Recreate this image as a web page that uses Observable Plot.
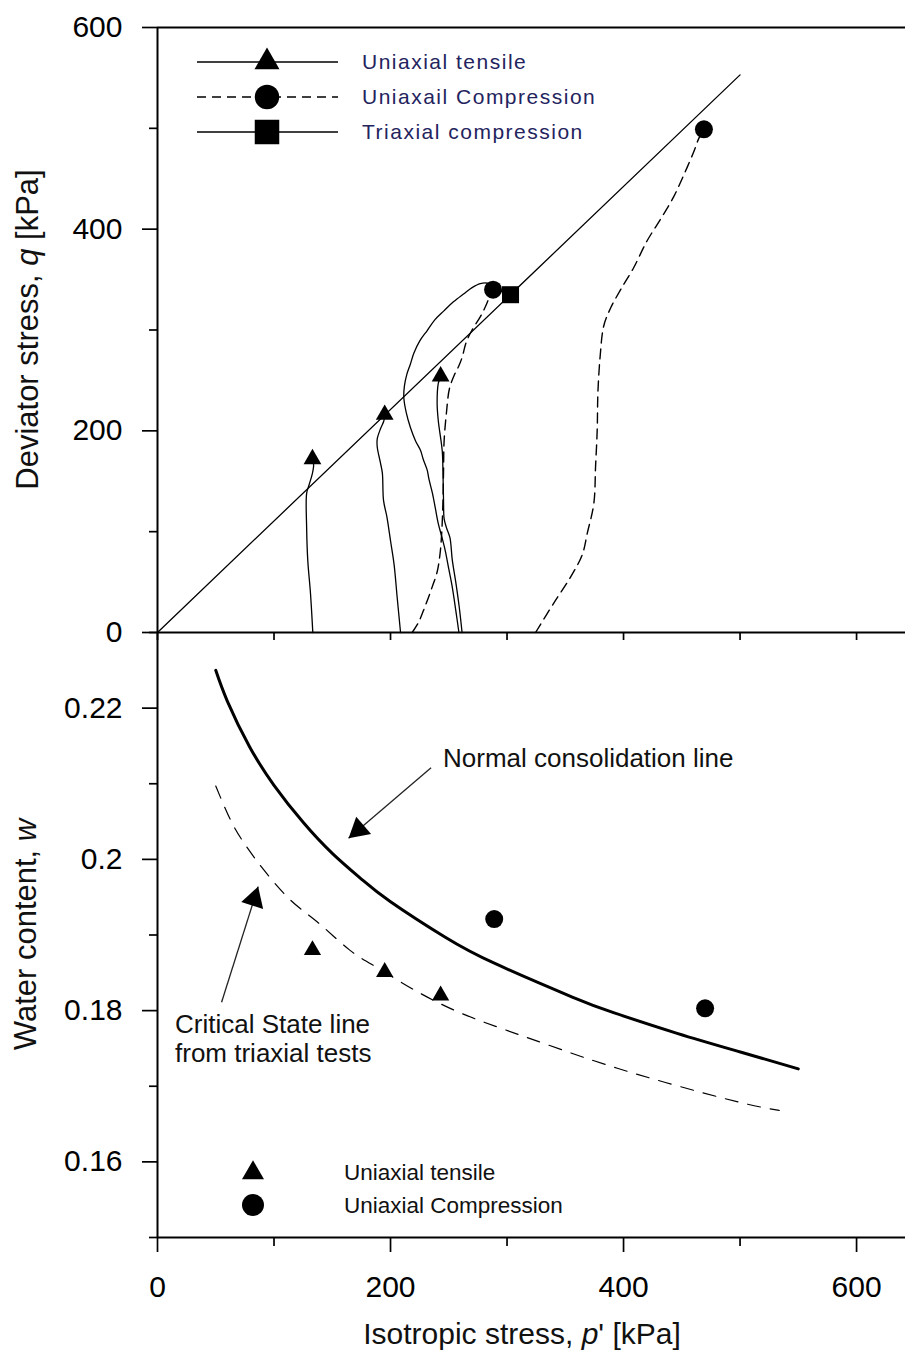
<!DOCTYPE html>
<html>
<head>
<meta charset="utf-8">
<script src="https://cdn.jsdelivr.net/npm/d3@7"></script>
<script src="https://cdn.jsdelivr.net/npm/@observablehq/plot@0.6"></script>
<style>
  body { margin: 0; background: #fff; }
  #wrap { position: relative; width: 905px; height: 1358px; overflow: hidden; background: #fff; }
  #wrap svg { position: absolute; left: 0; top: 0; }
</style>
</head>
<body>
<div id="wrap"></div>
<script>
// ---------- tick values ----------
const pTicksMajor = [0, 200, 400, 600];
const pTicksMinor = [100, 300, 500];
const qTicksMajor = [0, 200, 400, 600];
const qTicksMinor = [100, 300, 500];
const wTicksMajor = [0.16, 0.18, 0.2, 0.22];
const wTicksMinor = [0.15, 0.17, 0.19, 0.21, 0.23];

// ---------- upper panel: stress paths [p', q] ----------
const criticalStateLineQ = [[0, 0], [500, 553]];
const tensilePath1 = [[133.3, 0], [131.3, 39], [129, 71], [128, 104], [128, 138], [130, 146], [132.8, 157], [134, 166], [133, 172]];
const tensilePath2 = [[208.6, 0], [205.7, 35], [203, 68], [200, 91], [197, 114], [194, 131], [193, 158], [191.4, 168], [188.6, 184], [188.6, 192], [191.4, 202], [194.3, 210], [195, 216]];
const tensilePath3 = [[261.4, 0], [259, 25], [256, 50], [253, 72], [251, 94], [248, 104], [246, 113], [245.5, 130], [245, 160], [244.4, 180], [241, 210], [240, 227], [241, 247], [243, 254]];
const compressionPath1 = [[218.6, 0], [224, 10], [228, 21], [232, 33], [236, 46], [240, 60], [242.5, 78], [244, 100], [245, 130], [245.5, 160], [246, 190], [248, 218], [250.6, 242], [255, 256], [258.5, 264], [261.5, 273], [265, 288], [270, 300], [277, 313], [281, 322], [284, 330], [288, 340]];
const compressionPath2 = [[324.5, 0], [340, 29], [354.5, 55], [364.5, 77], [369, 99], [374.5, 128], [376, 165], [377.4, 201], [378, 238], [380, 275], [383, 304], [389, 322], [397.5, 340], [408.8, 362], [420, 388], [431.8, 410], [443, 432], [451.8, 454], [460, 476], [464.6, 490], [469, 499]];
const triaxialPath = [[258.7, 0], [256, 22], [253, 45], [250, 63], [247, 81], [244, 95], [241, 108], [238.5, 123], [236, 138], [233, 152], [231.5, 161], [228, 172], [225.8, 180.5], [221.5, 190], [217, 203.6], [213.5, 218], [211.4, 233], [212, 245], [214, 256], [217, 266], [220, 277], [225, 289], [231.5, 299.5], [238, 310], [245.8, 319], [254, 328], [263, 336], [270, 342], [277, 346], [283, 346.5], [289, 342], [296, 338], [303, 335]];
const tensileFailureQ = [[133, 172], [195, 216], [243, 254]];
const compressionFailureQ = [[288, 340], [469, 499]];
const triaxialFailureQ = [[303, 335]];

// ---------- lower panel: water content [p', w] ----------
const normalConsolidationLine = [[50, 0.2250], [60, 0.2209], [79, 0.2149], [100, 0.2098], [125, 0.2049], [150, 0.2008], [175, 0.1974], [200, 0.1944], [247, 0.1897], [290, 0.1862], [356, 0.1818], [392, 0.1797], [446, 0.1770], [501, 0.1745], [550, 0.1723]];
const criticalStateLineW = [[50, 0.2097], [62.7, 0.2052], [75, 0.2020], [91.8, 0.1985], [115, 0.1945], [138.9, 0.1915], [165, 0.1880], [189.5, 0.1856], [218.5, 0.1829], [260, 0.1797], [312.5, 0.1767], [374, 0.1734], [436, 0.1705], [499, 0.1679], [533.6, 0.1668]];
const tensileWater = [[133, 0.188], [195, 0.1851], [243, 0.182]];
const compressionWater = [[289, 0.1921], [470, 0.1803]];

// annotation arrows [tail, tip] in [p', w]
const nclArrow = [[234.8, 0.2121], [164, 0.2028]];
const cslArrow = [[55, 0.1811], [86.4, 0.1964]];

// ---------- texts ----------
const upperLegendLabels = ["Uniaxial tensile", "Uniaxail Compression", "Triaxial compression"];
const lowerLegendLabels = ["Uniaxial tensile", "Uniaxial Compression"];
const nclLabel = "Normal consolidation line";
const cslLabelLines = ["Critical State line", "from triaxial tests"];

// ---------- layout ----------
const FONT = "'Liberation Sans', Arial, Helvetica, sans-serif";
const W = 905, H = 1358, ML = 157;
const P_MAX = 642;
const Y_TOP = 27, Y_MID = 632, Y_BOT = 1237;
const KX = (W - ML) / P_MAX;
const KW = (Y_BOT - Y_MID) / 0.08;

const X = d => d[0], Y = d => d[1];
const wrap = document.getElementById("wrap");
const baseStyle = {background: "transparent", overflow: "visible", fontFamily: FONT, color: "#000"};

const solid = (data) => Plot.line(data, {x: X, y: Y, stroke: "#000", strokeWidth: 1.3, curve: "catmull-rom"});
const dashed = (data) => Plot.line(data, {x: X, y: Y, stroke: "#000", strokeWidth: 1.4, strokeDasharray: "10,6", curve: "catmull-rom"});

const upper = Plot.plot({
  width: W, height: H,
  marginLeft: ML, marginRight: 0, marginTop: Y_TOP, marginBottom: H - Y_MID,
  style: baseStyle,
  x: {domain: [0, P_MAX]},
  y: {domain: [0, 600]},
  marks: [
    Plot.line(criticalStateLineQ, {x: X, y: Y, stroke: "#000", strokeWidth: 1.3}),
    solid(tensilePath1), solid(tensilePath2), solid(tensilePath3), solid(triaxialPath),
    dashed(compressionPath1), dashed(compressionPath2),
    Plot.dot(tensileFailureQ, {x: X, y: Y, symbol: "triangle", r: 6.6, fill: "#000", stroke: "none"}),
    Plot.dot(compressionFailureQ, {x: X, y: Y, symbol: "circle", r: 9, fill: "#000", stroke: "none"}),
    Plot.dot(triaxialFailureQ, {x: X, y: Y, symbol: "square", r: 9.6, fill: "#000", stroke: "none"}),
    Plot.ruleX([0], {stroke: "#000", strokeWidth: 2}),
    Plot.ruleY([600], {stroke: "#000", strokeWidth: 2}),
    Plot.ruleY([0], {stroke: "#000", strokeWidth: 2}),
    Plot.axisY({ticks: qTicksMajor, tickSize: 15, tickPadding: 20, fontSize: 30, label: null, strokeWidth: 1.7}),
    Plot.axisY({ticks: qTicksMinor, tickSize: 8, tickFormat: () => "", label: null, strokeWidth: 1.7}),
    Plot.axisX({ticks: [...pTicksMajor, ...pTicksMinor], tickSize: 8, tickFormat: () => "", label: null, strokeWidth: 1.7})
  ]
});

function arrowMarks(a, r) {
  const [t, h] = a;
  const dxp = (h[0] - t[0]) * KX, dyp = -(h[1] - t[1]) * KW;
  const len = Math.hypot(dxp, dyp), ux = dxp / len, uy = dyp / len;
  const ang = Math.atan2(ux, -uy) * 180 / Math.PI;
  const off = 1.555 * r;
  return [
    Plot.link([a], {x1: d => d[0][0], y1: d => d[0][1], x2: d => d[1][0], y2: d => d[1][1], stroke: "#222", strokeWidth: 1.3}),
    Plot.dot([h], {x: X, y: Y, symbol: "triangle", r, fill: "#000", stroke: "none", rotate: ang, dx: -ux * off, dy: -uy * off})
  ];
}

const lower = Plot.plot({
  width: W, height: H,
  marginLeft: ML, marginRight: 0, marginTop: Y_MID, marginBottom: H - Y_BOT,
  style: baseStyle,
  x: {domain: [0, P_MAX]},
  y: {domain: [0.15, 0.23]},
  marks: [
    Plot.line(normalConsolidationLine, {x: X, y: Y, stroke: "#000", strokeWidth: 3, curve: "natural"}),
    Plot.line(criticalStateLineW, {x: X, y: Y, stroke: "#000", strokeWidth: 1.2, strokeDasharray: "13,10", curve: "natural"}),
    Plot.dot(tensileWater, {x: X, y: Y, symbol: "triangle", r: 6.4, fill: "#000", stroke: "none"}),
    Plot.dot(compressionWater, {x: X, y: Y, symbol: "circle", r: 9, fill: "#000", stroke: "none"}),
    ...arrowMarks(nclArrow, 8.5),
    ...arrowMarks(cslArrow, 8.5),
    Plot.ruleX([0], {stroke: "#000", strokeWidth: 2}),
    Plot.ruleY([0.15], {stroke: "#000", strokeWidth: 2}),
    Plot.axisY({ticks: wTicksMajor, tickSize: 15, tickPadding: 20, fontSize: 30, label: null, strokeWidth: 1.7, tickFormat: d => String(d)}),
    Plot.axisY({ticks: wTicksMinor, tickSize: 8, tickFormat: () => "", label: null, strokeWidth: 1.7}),
    Plot.axisX({ticks: pTicksMajor, tickSize: 15, tickPadding: 23, fontSize: 30, label: null, strokeWidth: 1.7}),
    Plot.axisX({ticks: pTicksMinor, tickSize: 9, tickFormat: () => "", label: null, strokeWidth: 1.7})
  ]
});

wrap.appendChild(upper);
wrap.appendChild(lower);

// ---------- axis titles ----------
function richText(svg, x, y, parts, opts) {
  const t = d3.select(svg).append("text")
    .attr("x", x).attr("y", y)
    .attr("font-family", FONT).attr("font-size", opts.size)
    .attr("fill", opts.fill || "#111")
    .attr("text-anchor", opts.anchor || "start");
  if (opts.rotate) t.attr("transform", `rotate(${opts.rotate},${x},${y})`);
  if (opts.spacing) t.attr("letter-spacing", opts.spacing);
  parts.forEach(([s, it]) => t.append("tspan").attr("font-style", it ? "italic" : "normal").text(s));
  return t;
}
richText(upper, 38, (Y_TOP + Y_MID) / 2, [["Deviator stress, "], ["q", true], [" [kPa]"]], {size: 31, anchor: "middle", rotate: -90});
richText(lower, 36, (Y_MID + Y_BOT) / 2, [["Water content, "], ["w", true]], {size: 31, anchor: "middle", rotate: -90});
richText(lower, 522, 1344, [["Isotropic stress, "], ["p", true], ["' [kPa]"]], {size: 30, anchor: "middle"});

// ---------- upper legend ----------
{
  const g = d3.select(upper).append("g");
  const rows = [
    {y: 62, dash: null, sym: d3.symbolTriangle, size: 270},
    {y: 97, dash: "9,6", sym: d3.symbolCircle, size: 470},
    {y: 132, dash: null, sym: d3.symbolSquare, size: 600}
  ];
  rows.forEach((r, i) => {
    g.append("line").attr("x1", 197).attr("x2", 338).attr("y1", r.y).attr("y2", r.y)
      .attr("stroke", "#000").attr("stroke-width", 1.5).attr("stroke-dasharray", r.dash);
    g.append("path").attr("d", d3.symbol(r.sym, r.size)()).attr("transform", `translate(267,${r.y})`).attr("fill", "#000");
    richText(upper, 362, r.y + 7, [[upperLegendLabels[i]]], {size: 21, fill: "#23235e", spacing: 1.5});
  });
}

// ---------- lower legend ----------
{
  const g = d3.select(lower).append("g");
  g.append("path").attr("d", d3.symbol(d3.symbolTriangle, 210)()).attr("transform", "translate(253,1173)").attr("fill", "#000");
  g.append("path").attr("d", d3.symbol(d3.symbolCircle, 380)()).attr("transform", "translate(253,1205)").attr("fill", "#000");
  richText(lower, 344, 1180, [[lowerLegendLabels[0]]], {size: 22.5, fill: "#111"});
  richText(lower, 344, 1213, [[lowerLegendLabels[1]]], {size: 22.5, fill: "#111"});
}

// ---------- annotations ----------
richText(lower, 443, 767, [[nclLabel]], {size: 26, fill: "#111"});
richText(lower, 175, 1033, [[cslLabelLines[0]]], {size: 26, fill: "#111"});
richText(lower, 175, 1062, [[cslLabelLines[1]]], {size: 26, fill: "#111"});
</script>
</body>
</html>
